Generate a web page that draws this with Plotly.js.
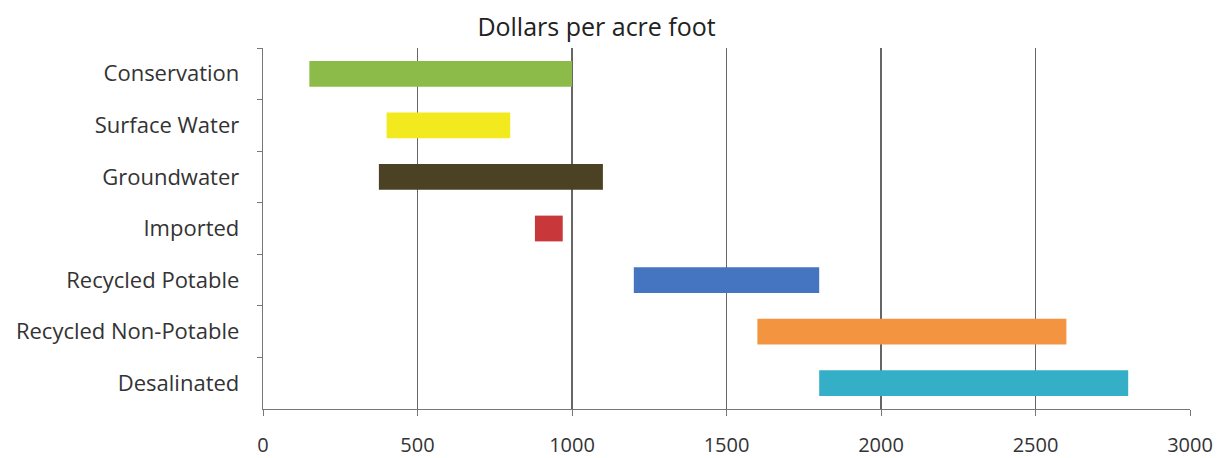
<!DOCTYPE html>
<html>
<head>
<meta charset="utf-8">
<script src="https://cdn.plot.ly/plotly-3.0.1.min.js"></script>
<style>html,body{margin:0;padding:0;background:#fff;}#chart{width:1225px;height:458px;}</style>
</head>
<body>
<div id="chart"></div>
<script>
const categories = ["Conservation", "Surface Water", "Groundwater", "Imported", "Recycled Potable", "Recycled Non-Potable", "Desalinated"];
const lowCost = [150, 400, 375, 880, 1200, 1600, 1800];
const highCost = [1000, 800, 1100, 970, 1800, 2600, 2800];
const barColors = ["#8dbb4a", "#f2ea1e", "#4a4222", "#c8373a", "#4575c0", "#f39441", "#35aec8"];
const xTicks = [0, 500, 1000, 1500, 2000, 2500, 3000];

const trace = {
  type: "bar",
  orientation: "h",
  y: categories,
  base: lowCost,
  x: highCost.map((h, i) => h - lowCost[i]),
  marker: { color: barColors, line: { width: 0 } },
  width: 0.5,
  hoverinfo: "none"
};

const layout = {
  width: 1225,
  height: 458,
  margin: { l: 263, r: 35, t: 48, b: 49 },
  paper_bgcolor: "#ffffff",
  plot_bgcolor: "#ffffff",
  showlegend: false,
  font: { family: "Open Sans, Liberation Sans, sans-serif", size: 20, color: "#333" },
  title: {
    text: "Dollars per acre foot",
    font: { size: 25, color: "#222" },
    x: 0.487, xanchor: "center",
    y: 0.94, yanchor: "middle"
  },
  xaxis: {
    range: [0, 3000],
    tickvals: xTicks,
    ticktext: xTicks.map(String),
    showgrid: true,
    gridcolor: "#666666",
    gridwidth: 1.3,
    zeroline: false,
    showline: true,
    linecolor: "#777777",
    linewidth: 1.3,
    ticks: "outside",
    ticklen: 6,
    tickcolor: "#777777",
    ticklabelstandoff: 12,
    tickfont: { size: 20, color: "#333" }
  },
  yaxis: {
    type: "category",
    autorange: "reversed",
    showgrid: false,
    zeroline: false,
    showline: true,
    linecolor: "#777777",
    linewidth: 1.3,
    ticks: "outside",
    tickson: "boundaries",
    ticklen: 5,
    tickcolor: "#777777",
    ticklabelstandoff: 18,
    tickfont: { size: 22, color: "#333" }
  }
};

Plotly.newPlot("chart", [trace], layout, { staticPlot: true, displayModeBar: false });
</script>
</body>
</html>
